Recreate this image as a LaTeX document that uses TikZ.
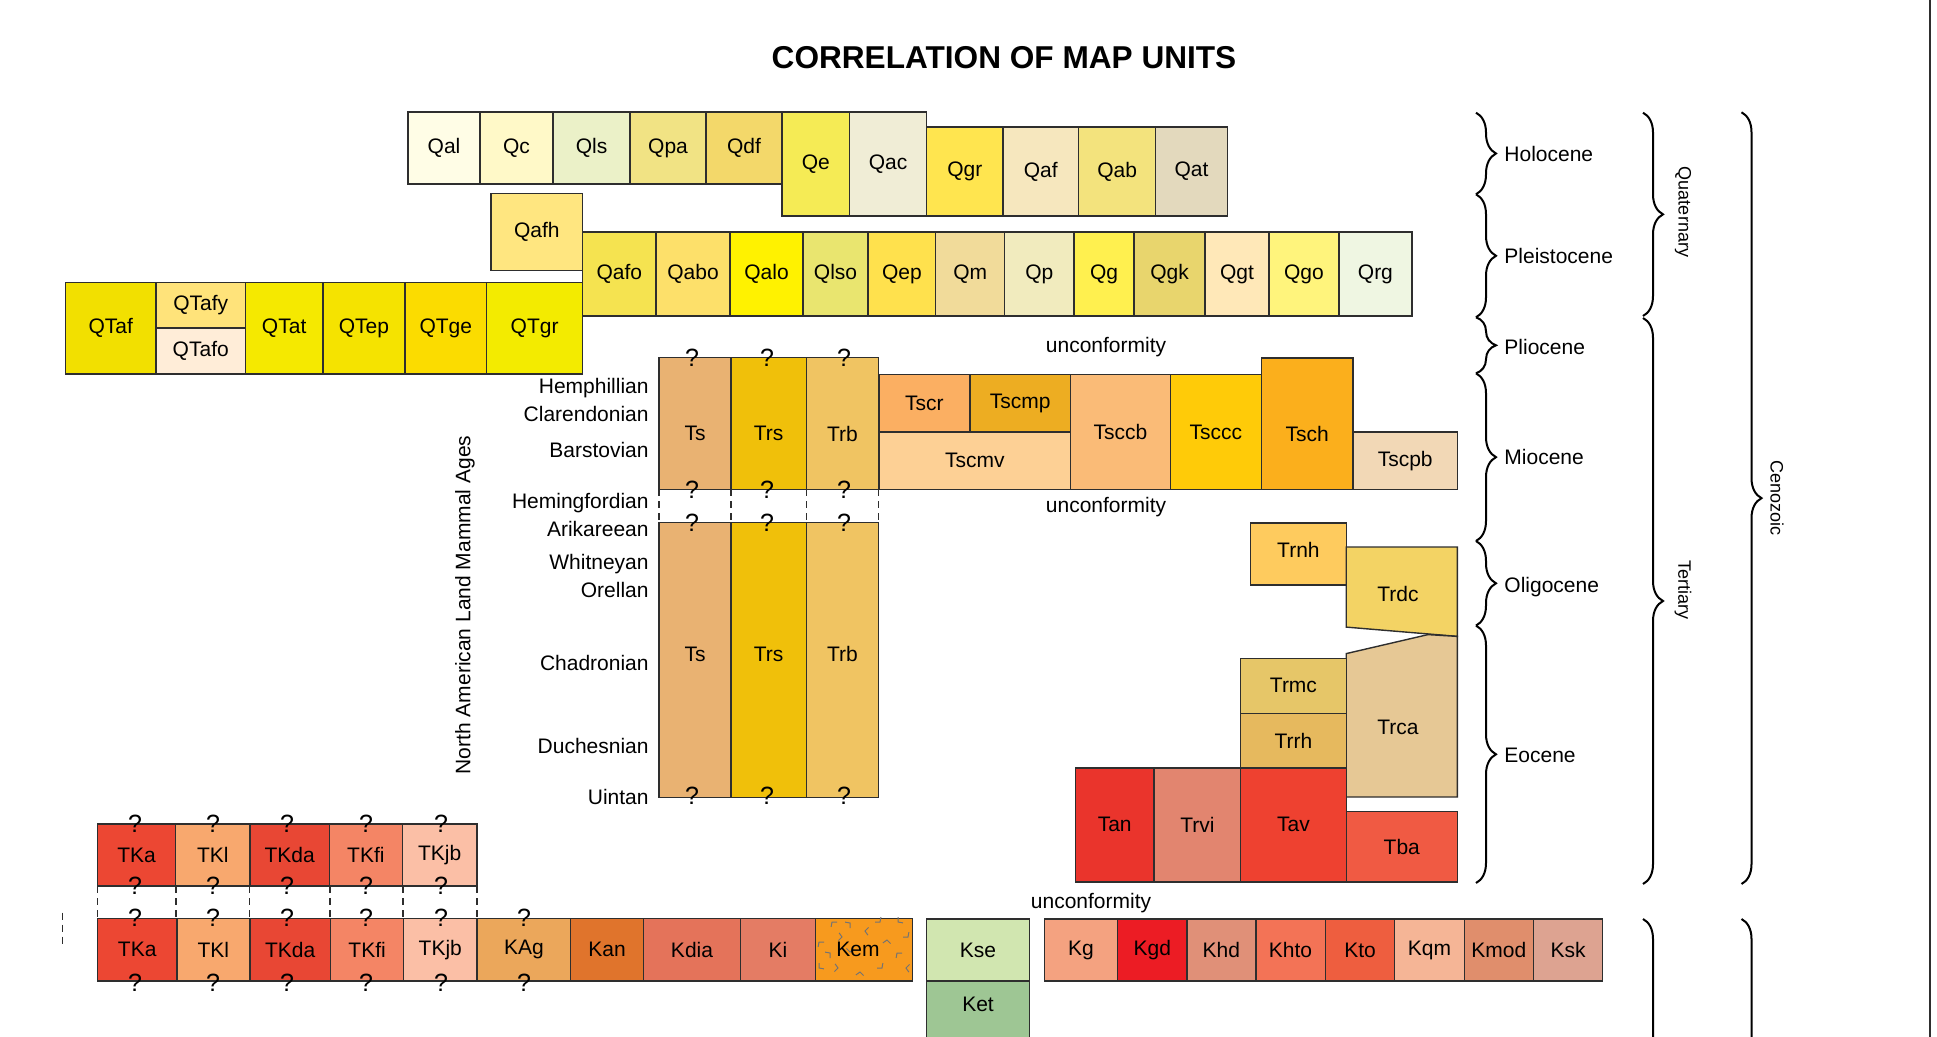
\documentclass[tikz,border=0pt]{standalone}
\usepackage{fontspec}
\setmainfont{Liberation Sans}
\usetikzlibrary{decorations.pathreplacing}

\definecolor{boxline}{HTML}{2E2E2E}
% Quaternary units
\definecolor{qal}{HTML}{FFFDE6}
\definecolor{qc}{HTML}{FFF9C8}
\definecolor{qls}{HTML}{EBF1C8}
\definecolor{qpa}{HTML}{F1E384}
\definecolor{qdf}{HTML}{F3D86A}
\definecolor{qe}{HTML}{F5EB55}
\definecolor{qac}{HTML}{F0EDD6}
\definecolor{qgr}{HTML}{FFE54F}
\definecolor{qaf}{HTML}{F6E7BE}
\definecolor{qab}{HTML}{F3E37D}
\definecolor{qat}{HTML}{E3D9BD}
\definecolor{qafh}{HTML}{FFE680}
\definecolor{qafo}{HTML}{F5E350}
\definecolor{qabo}{HTML}{FDE06A}
\definecolor{qalo}{HTML}{FFF200}
\definecolor{qlso}{HTML}{E9E56F}
\definecolor{qep}{HTML}{FFE14D}
\definecolor{qm}{HTML}{F1DB9A}
\definecolor{qp}{HTML}{F1EBBE}
\definecolor{qg}{HTML}{FFF04F}
\definecolor{qgk}{HTML}{E8D56D}
\definecolor{qgt}{HTML}{FFE8B8}
\definecolor{qgo}{HTML}{FFF47C}
\definecolor{qrg}{HTML}{EFF6E2}
\definecolor{qtaf}{HTML}{F2E000}
\definecolor{qtafy}{HTML}{FFE37A}
\definecolor{qtafo}{HTML}{FFEDD8}
\definecolor{qtat}{HTML}{F5E900}
\definecolor{qtep}{HTML}{F5E300}
\definecolor{qtge}{HTML}{FBDC00}
\definecolor{qtgr}{HTML}{F3EB00}
% Tertiary units
\definecolor{ts}{HTML}{E9B272}
\definecolor{trs}{HTML}{F0C00A}
\definecolor{trb}{HTML}{F0C462}
\definecolor{tscr}{HTML}{FBAF62}
\definecolor{tscmp}{HTML}{EDAD22}
\definecolor{tscmv}{HTML}{FDD095}
\definecolor{tsccb}{HTML}{FABB77}
\definecolor{tsccc}{HTML}{FFCB08}
\definecolor{tsch}{HTML}{FBAF1C}
\definecolor{tscpb}{HTML}{F2D8B6}
\definecolor{trnh}{HTML}{FECB5E}
\definecolor{trdc}{HTML}{F3D364}
\definecolor{trca}{HTML}{E6C895}
\definecolor{trmc}{HTML}{E6C668}
\definecolor{trrh}{HTML}{E6B95E}
\definecolor{tan}{HTML}{EA342C}
\definecolor{trvi}{HTML}{E2856F}
\definecolor{tav}{HTML}{EE4130}
\definecolor{tba}{HTML}{F05A43}
% Tertiary-Cretaceous and Cretaceous units
\definecolor{tka}{HTML}{EC4733}
\definecolor{tkl}{HTML}{F8A86E}
\definecolor{tkda}{HTML}{E84734}
\definecolor{tkfi}{HTML}{F48565}
\definecolor{tkjb}{HTML}{FBBFA6}
\definecolor{kag}{HTML}{EBA75B}
\definecolor{kan}{HTML}{E0742C}
\definecolor{kdia}{HTML}{E4735A}
\definecolor{ki}{HTML}{E47C64}
\definecolor{kem}{HTML}{F79A1E}
\definecolor{kse}{HTML}{D1E6B0}
\definecolor{ket}{HTML}{9EC694}
\definecolor{kg}{HTML}{F4A280}
\definecolor{kgd}{HTML}{EC1C24}
\definecolor{khd}{HTML}{E09078}
\definecolor{khto}{HTML}{F37356}
\definecolor{kto}{HTML}{EE5E3F}
\definecolor{kqm}{HTML}{F5B596}
\definecolor{kmod}{HTML}{E08E6C}
\definecolor{ksk}{HTML}{DDA391}

\newcommand{\unitfont}{\fontsize{10.5}{12}\selectfont}
\newcommand{\qfont}{\fontsize{12.5}{14}\selectfont}
\newcommand{\erafont}{\fontsize{9}{11}\selectfont}
\newcommand{\titlefont}{\fontsize{15.8}{18}\selectfont\bfseries}

% [label shift], name, colour, x1, y1, x2, y2, text
\newcommand{\unitbox}[8][0]{%
  \filldraw[unit, fill=#3] (#4,#5) rectangle (#6,#7);
  \node[unitlabel] (#2) at ({(#4+#6)/2},{(#5+#7)/2+#1}) {#8};}

\tikzset{
  unit/.style={draw=boxline, line width=0.7pt},
  unitlabel/.style={font=\unitfont, inner sep=0pt},
  qmark/.style={font=\qfont, inner sep=0pt},
  agelabel/.style={font=\unitfont, anchor=east, inner sep=0pt},
  epochlabel/.style={font=\unitfont, anchor=west, inner sep=0pt},
  eralabel/.style={font=\erafont, rotate=-90, inner sep=0pt},
  gapline/.style={draw=boxline, line width=0.6pt, dash pattern=on 3.5pt off 2.5pt},
  agebrace/.style={decorate, decoration={brace, amplitude=10pt}, line width=1pt},
  kemmark/.style={draw=black!55, line width=0.5pt},
}

\begin{document}
\begin{tikzpicture}[x=0.5pt, y=-0.5pt]
  \useasboundingbox (0,0) rectangle (1937,1037);
  \clip (0,0) rectangle (1937,1037);

  \node[font=\titlefont] (title) at (1004,58) {CORRELATION OF MAP UNITS};

  % Holocene row
  \unitbox{Qal}{qal}{408}{112}{480}{184}{Qal}
  \unitbox{Qc}{qc}{480}{112}{553}{184}{Qc}
  \unitbox{Qls}{qls}{553}{112}{630}{184}{Qls}
  \unitbox{Qpa}{qpa}{630}{112}{706}{184}{Qpa}
  \unitbox{Qdf}{qdf}{706}{112}{782}{184}{Qdf}
  \unitbox{Qe}{qe}{782}{112}{849.5}{216}{Qe}
  \unitbox{Qac}{qac}{849.5}{112}{926.5}{216}{Qac}
  \unitbox{Qgr}{qgr}{926.5}{127}{1003}{216}{Qgr}
  \unitbox{Qaf}{qaf}{1003}{127}{1078.6}{216}{Qaf}
  \unitbox{Qab}{qab}{1078.6}{127}{1155.6}{216}{Qab}
  \unitbox{Qat}{qat}{1155.6}{127}{1227.5}{216}{Qat}

  % Pleistocene row
  \unitbox{Qafh}{qafh}{491}{193.7}{582.6}{270.7}{Qafh}
  \unitbox{Qafo}{qafo}{582.6}{232}{656}{316}{Qafo}
  \unitbox{Qabo}{qabo}{656}{232}{730}{316}{Qabo}
  \unitbox{Qalo}{qalo}{730}{232}{803}{316}{Qalo}
  \unitbox{Qlso}{qlso}{803}{232}{868}{316}{Qlso}
  \unitbox{Qep}{qep}{868}{232}{935.7}{316}{Qep}
  \unitbox{Qm}{qm}{935.7}{232}{1004.6}{316}{Qm}
  \unitbox{Qp}{qp}{1004.6}{232}{1074}{316}{Qp}
  \unitbox{Qg}{qg}{1074}{232}{1134}{316}{Qg}
  \unitbox{Qgk}{qgk}{1134}{232}{1205}{316}{Qgk}
  \unitbox{Qgt}{qgt}{1205}{232}{1269}{316}{Qgt}
  \unitbox{Qgo}{qgo}{1269}{232}{1338.8}{316}{Qgo}
  \unitbox{Qrg}{qrg}{1338.8}{232}{1412}{316}{Qrg}

  % QT row
  \unitbox{QTaf}{qtaf}{65.6}{282.3}{156}{374}{QTaf}
  \unitbox{QTafy}{qtafy}{156}{282.3}{245.5}{328}{QTafy}
  \unitbox{QTafo}{qtafo}{156}{328}{245.5}{374}{QTafo}
  \unitbox{QTat}{qtat}{245.5}{282.3}{322.8}{374}{QTat}
  \unitbox{QTep}{qtep}{322.8}{282.3}{405}{374}{QTep}
  \unitbox{QTge}{qtge}{405}{282.3}{486.6}{374}{QTge}
  \unitbox{QTgr}{qtgr}{486.6}{282.3}{582.6}{374}{QTgr}

  % Ts, Trs, Trb columns
  \unitbox[10]{Ts1}{ts}{659}{357.7}{731}{489.3}{Ts}
  \unitbox[10]{Trs1}{trs}{731}{357.7}{806.3}{489.3}{Trs}
  \unitbox[10]{Trb1}{trb}{806.3}{357.7}{878.7}{489.3}{Trb}
  \unitbox[-6]{Ts2}{ts}{659}{522.7}{731}{797.7}{Ts}
  \unitbox[-6]{Trs2}{trs}{731}{522.7}{806.3}{797.7}{Trs}
  \unitbox[-6]{Trb2}{trb}{806.3}{522.7}{878.7}{797.7}{Trb}
  \foreach \x in {659,731,806.3,878.7}
    \draw[gapline] (\x,489.3) -- (\x,522.7);
  \foreach \x in {692,767,844}
    \foreach \y in {358,489.5,523,796}
      \node[qmark] (q-\x-\y) at (\x,\y) {?};

  % Miocene units
  \unitbox{Tscr}{tscr}{878.9}{374.6}{969.8}{432}{Tscr}
  \unitbox{Tscmp}{tscmp}{969.8}{374.6}{1070.6}{432}{Tscmp}
  \unitbox{Tscmv}{tscmv}{878.9}{432}{1070.6}{489.3}{Tscmv}
  \unitbox{Tsccb}{tsccb}{1070.6}{374.6}{1170.3}{489.3}{Tsccb}
  \unitbox{Tsccc}{tsccc}{1170.3}{374.6}{1261.2}{489.3}{Tsccc}
  \unitbox[10]{Tsch}{tsch}{1261.2}{357.9}{1353}{489.3}{Tsch}
  \unitbox{Tscpb}{tscpb}{1353}{432}{1457.4}{489.3}{Tscpb}

  % Oligocene and Eocene units
  \unitbox[-4]{Trnh}{trnh}{1250.6}{522.9}{1346.2}{585}{Trnh}
  \filldraw[unit, fill=trdc] (1346.2,547) -- (1457.4,547) -- (1457.4,636.4) -- (1346.2,627.1) -- cycle;
  \node[unitlabel] (Trdc) at (1398,594) {Trdc};
  \filldraw[unit, fill=trca] (1346.2,653.6) -- (1428,634.6) -- (1457.4,636.4) -- (1457.4,797) -- (1346.2,797) -- cycle;
  \node[unitlabel] (Trca) at (1398,727.5) {Trca};
  \unitbox{Trmc}{trmc}{1240.7}{658.2}{1346.2}{713.2}{Trmc}
  \unitbox{Trrh}{trrh}{1240.7}{713.2}{1346.2}{767.9}{Trrh}
  \unitbox{Tan}{tan}{1075.4}{767.9}{1154}{881.8}{Tan}
  \unitbox{Trvi}{trvi}{1154}{767.9}{1240.7}{881.8}{Trvi}
  \unitbox{Tav}{tav}{1240.7}{767.9}{1346.2}{881.8}{Tav}
  \unitbox{Tba}{tba}{1346.2}{811.4}{1457.4}{881.8}{Tba}

  % TK rows
  \unitbox{TKa1}{tka}{97.4}{824}{175.7}{886}{TKa}
  \unitbox{TKl1}{tkl}{175.7}{824}{249.8}{886}{TKl}
  \unitbox{TKda1}{tkda}{249.8}{824}{329.5}{886}{TKda}
  \unitbox{TKfi1}{tkfi}{329.5}{824}{402.3}{886}{TKfi}
  \unitbox{TKjb1}{tkjb}{402.3}{824}{477}{886}{TKjb}
  \unitbox{TKa2}{tka}{97.4}{918.3}{177}{981}{TKa}
  \unitbox{TKl2}{tkl}{177}{918.3}{249.8}{981}{TKl}
  \unitbox{TKda2}{tkda}{249.8}{918.3}{330.7}{981}{TKda}
  \unitbox{TKfi2}{tkfi}{330.7}{918.3}{403.6}{981}{TKfi}
  \unitbox{TKjb2}{tkjb}{403.6}{918.3}{477}{981}{TKjb}
  \unitbox{KAg}{kag}{477}{918.3}{570.7}{981}{KAg}
  \unitbox{Kan}{kan}{570.7}{918.3}{643.6}{981}{Kan}
  \unitbox{Kdia}{kdia}{643.6}{918.3}{740.4}{981}{Kdia}
  \unitbox{Ki}{ki}{740.4}{918.3}{815.7}{981}{Ki}
  \filldraw[unit, fill=kem] (815.7,918.3) rectangle (912.4,981);
  \foreach \x/\y/\a in {832/922/0, 850/923/90, 880/922/180, 898/922/270,
      819/942/0, 842/937/135, 865/931/315, 887/940/45, 908/937/180,
      830/953/90, 850/952/225, 897/953/0, 819/968/270, 838/968/135,
      860/972/45, 882/968/180, 906/968/315}
    \draw[kemmark] (\x,\y) ++(\a:5) -- (\x,\y) -- ++(\a+100:5);
  \node[unitlabel] (Kem) at (858,949.7) {Kem};
  \foreach \x in {97.4,176,249.8,330,403,477}
    \draw[gapline] (\x,886) -- (\x,918.3);
  \draw[gapline] (62.5,912.7) -- (62.5,946.7);
  \foreach \x in {135,213,287,366,441}
    \foreach \y in {824,886,918,983}
      \node[qmark] (q-\x-\y) at (\x,\y) {?};
  \node[qmark] (q-kag-top) at (524,918) {?};
  \node[qmark] (q-kag-bot) at (524,983) {?};

  % Cretaceous units
  \unitbox{Kse}{kse}{926.5}{919}{1029.6}{981}{Kse}
  \unitbox[-9]{Ket}{ket}{926.5}{981}{1029.6}{1045}{Ket}
  \unitbox{Kg}{kg}{1044.2}{919}{1117.6}{981}{Kg}
  \unitbox{Kgd}{kgd}{1117.6}{919}{1187}{981}{Kgd}
  \unitbox{Khd}{khd}{1187}{919}{1255.8}{981}{Khd}
  \unitbox{Khto}{khto}{1255.8}{919}{1325.3}{981}{Khto}
  \unitbox{Kto}{kto}{1325.3}{919}{1394.7}{981}{Kto}
  \unitbox{Kqm}{kqm}{1394.7}{919}{1464.2}{981}{Kqm}
  \unitbox{Kmod}{kmod}{1464.2}{919}{1533.6}{981}{Kmod}
  \unitbox{Ksk}{ksk}{1533.6}{919}{1602.4}{981}{Ksk}

  % unconformities
  \node[unitlabel] (unconf1) at (1106,347) {unconformity};
  \node[unitlabel] (unconf2) at (1106,507) {unconformity};
  \node[unitlabel] (unconf3) at (1091,903) {unconformity};

  % land mammal ages
  \node[font=\unitfont, rotate=90, inner sep=0pt] (nalma) at (465,605) {North American Land Mammal Ages};
  \node[agelabel] (hemphillian) at (649,388) {Hemphillian};
  \node[agelabel] (clarendonian) at (649,414) {Clarendonian};
  \node[agelabel] (barstovian) at (649,450) {Barstovian};
  \node[agelabel] (hemingfordian) at (649,503) {Hemingfordian};
  \node[agelabel] (arikareean) at (649,529) {Arikareean};
  \node[agelabel] (whitneyan) at (649,564) {Whitneyan};
  \node[agelabel] (orellan) at (649,590) {Orellan};
  \node[agelabel] (chadronian) at (649,663) {Chadronian};
  \node[agelabel] (duchesnian) at (649,746) {Duchesnian};
  \node[agelabel] (uintan) at (649,797) {Uintan};

  % epochs
  \draw[agebrace] (1476,112.7) -- (1476,194.3);
  \draw[agebrace] (1476,194.3) -- (1476,317.3);
  \draw[agebrace] (1476,317.3) -- (1476,373.3);
  \draw[agebrace] (1476,373.3) -- (1476,541);
  \draw[agebrace] (1476,541) -- (1476,625.6);
  \draw[agebrace] (1476,625.6) -- (1476,883);
  \node[epochlabel] (holocene) at (1504,154) {Holocene};
  \node[epochlabel] (pleistocene) at (1504,256) {Pleistocene};
  \node[epochlabel] (pliocene) at (1504,347) {Pliocene};
  \node[epochlabel] (miocene) at (1504,457) {Miocene};
  \node[epochlabel] (oligocene) at (1504,587) {Oligocene};
  \node[epochlabel] (eocene) at (1504,755) {Eocene};

  % periods and era
  \draw[agebrace] (1643,112.7) -- (1643,316);
  \draw[agebrace] (1643,318) -- (1643,884);
  \draw[agebrace] (1741.5,112.3) -- (1741.5,884);
  \draw[agebrace] (1643,919) -- (1643,1400);
  \draw[agebrace] (1741.5,919) -- (1741.5,1400);
  \node[eralabel] (quaternary) at (1683,212) {Quaternary};
  \node[eralabel] (tertiary) at (1683,590) {Tertiary};
  \node[eralabel] (cenozoic) at (1777,498) {Cenozoic};

  \draw[draw=boxline, line width=1.2pt] (1930,0) -- (1930,1037);   % right edge
\end{tikzpicture}
\end{document}
